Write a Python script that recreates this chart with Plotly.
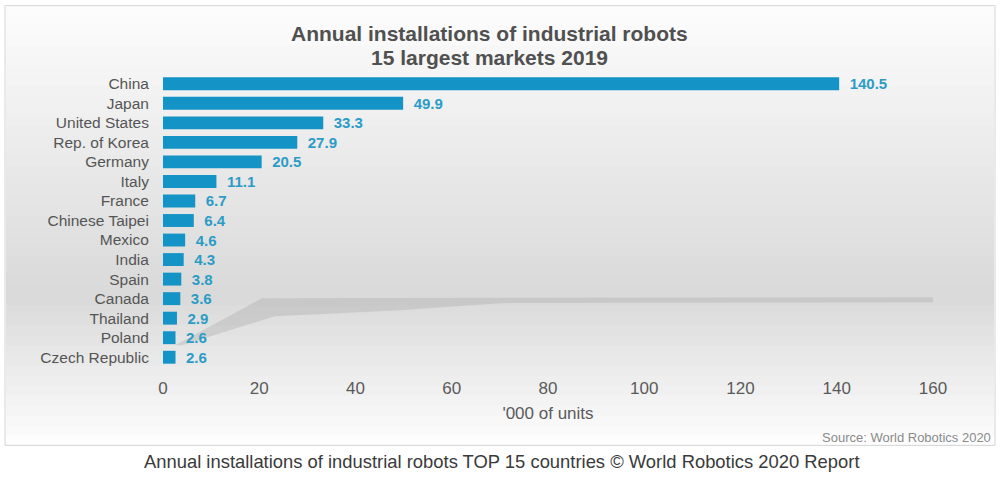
import plotly.graph_objects as go

countries = ["China", "Japan", "United States", "Rep. of Korea", "Germany", "Italy",
             "France", "Chinese Taipei", "Mexico", "India", "Spain", "Canada",
             "Thailand", "Poland", "Czech Republic"]
units = [140.5, 49.9, 33.3, 27.9, 20.5, 11.1, 6.7, 6.4, 4.6, 4.3, 3.8, 3.6, 2.9, 2.6, 2.6]
x_ticks = [0, 20, 40, 60, 80, 100, 120, 140, 160]

W, H = 1000, 478
# plot area in pixels
PX0, PX1 = 163, 933
PY0, PY1 = 74.25, 366.75


def px(x):
    return (x - PX0) / (PX1 - PX0)


def py(y):
    return (PY1 - y) / (PY1 - PY0)


fig = go.Figure()

fig.add_trace(go.Bar(
    y=countries, x=units, orientation="h",
    marker=dict(color="#1493c6", line=dict(width=0)),
    width=0.66,
    text=[f"\u2002<b>{v:.1f}</b>" for v in units], textposition="outside",
    constraintext="none",
    textfont=dict(family="Liberation Sans", size=15, color="#2b9cc6"),
    cliponaxis=False,
))

shapes = []
# gradient background inside the frame
top, bottom = 6, 445
n = 44
for i in range(n):
    y0 = top + (bottom - top) * i / n
    y1 = top + (bottom - top) * (i + 1) / n
    t = (y0 + y1) / 2
    if t < 295:
        g = 253 - (253 - 217) * (t - top) / (295 - top)
    else:
        g = 217 + (254 - 217) * (t - 295) / (bottom - 295)
    g = int(round(g))
    shapes.append(dict(type="rect", xref="paper", yref="paper", layer="below",
                       x0=px(6), x1=px(994), y0=py(min(y1 + 1.5, bottom)), y1=py(y0),
                       fillcolor=f"rgb({g},{g},{g})", line=dict(width=0)))
# frame
shapes.append(dict(type="rect", xref="paper", yref="paper", layer="below",
                   x0=px(5), x1=px(995), y0=py(445), y1=py(6),
                   line=dict(color="#d4d4d4", width=1)))
# soft reflection shadow
shapes.append(dict(type="path", xref="paper", yref="paper", layer="below",
                   path=(f"M {px(175)},{py(345)} L {px(262)},{py(298)} L {px(933)},{py(297)} "
                         f"L {px(933)},{py(302)} L {px(500)},{py(303)} L {px(400)},{py(310)} "
                         f"L {px(275)},{py(316)} L {px(182)},{py(345)} Z"),
                   fillcolor="rgba(160,160,160,0.3)", line=dict(width=0)))

title_font = dict(family="Liberation Sans", size=21, color="#505050")

fig.update_layout(
    width=W, height=H,
    margin=dict(l=PX0, r=W - PX1, t=PY0, b=H - PY1),
    paper_bgcolor="white", plot_bgcolor="rgba(0,0,0,0)",
    showlegend=False,
    shapes=shapes,
    font=dict(family="Liberation Sans"),
    xaxis=dict(range=[0, 160], tickvals=x_ticks, showgrid=False, zeroline=False,
               showline=False, ticks="outside", ticklen=6, tickcolor="rgba(0,0,0,0)",
               tickfont=dict(size=17, color="#5a5a5a"),
               title=dict(text="'000 of units", standoff=9,
                          font=dict(size=17, color="#5a5a5a"))),
    yaxis=dict(autorange="reversed", showgrid=False, zeroline=False, showline=False,
               ticks="outside", ticklen=10, tickcolor="rgba(0,0,0,0)",
               tickfont=dict(size=15.5, color="#555555")),
    annotations=[
        dict(text="<b>Annual installations of industrial robots</b>", xref="paper", yref="paper",
             x=px(489), y=py(34), xanchor="center", yanchor="middle", showarrow=False,
             font=title_font),
        dict(text="<b>15 largest markets 2019</b>", xref="paper", yref="paper",
             x=px(489), y=py(58), xanchor="center", yanchor="middle", showarrow=False,
             font=title_font),
        dict(text="Source: World Robotics 2020", xref="paper", yref="paper",
             x=px(993), y=py(437), xanchor="right", yanchor="middle", showarrow=False,
             font=dict(size=13, color="#8a8a8a")),
        dict(text="Annual installations of industrial robots TOP 15 countries © World Robotics 2020 Report",
             xref="paper", yref="paper", x=px(502), y=py(461), xanchor="center",
             yanchor="middle", showarrow=False, font=dict(size=18.4, color="#3a3a3a")),
    ],
)

fig.write_html("out.html", config={"displayModeBar": False},
               post_script="document.body.style.margin='0';")
